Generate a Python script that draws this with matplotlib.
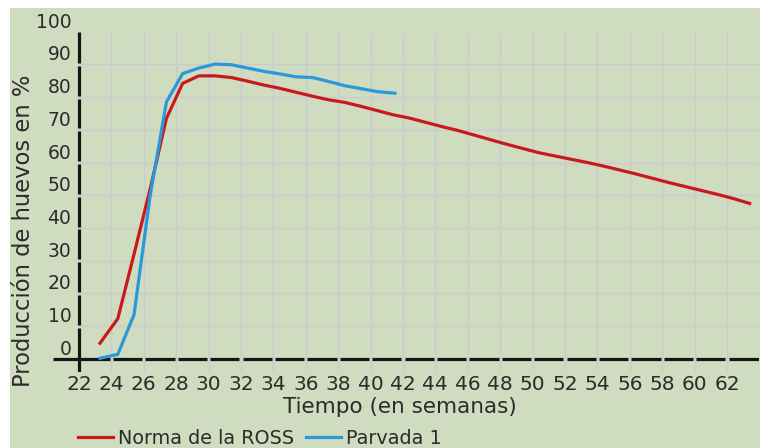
import matplotlib
matplotlib.use("Agg")
import matplotlib.pyplot as plt
from matplotlib.patches import Rectangle
from matplotlib.lines import Line2D

# ---------------- data ----------------
semanas_ross = [23.3, 24.4, 25.4, 26.4, 27.4, 28.4, 29.4, 30.4, 31.4, 32.4,
                33.4, 34.4, 35.4, 36.4, 37.4, 38.4, 39.4, 40.4, 41.4, 42.4,
                43.4, 44.4, 45.4, 46.4, 47.4, 48.4, 49.4, 50.4, 51.4, 52.4,
                53.4, 54.4, 55.4, 56.4, 57.4, 58.4, 59.4, 60.4, 61.4, 62.4, 63.4]
norma_ross = [4.8, 12.3, 32.0, 52.0, 73.5, 84.2, 86.5, 86.5, 86.0, 84.9,
              83.7, 82.7, 81.5, 80.3, 79.2, 78.4, 77.2, 75.9, 74.6, 73.6,
              72.3, 71.0, 69.8, 68.4, 67.0, 65.6, 64.3, 63.0, 62.0, 61.0,
              60.0, 58.9, 57.7, 56.5, 55.2, 53.9, 52.7, 51.5, 50.3, 49.0, 47.5]

semanas_parvada = [23.3, 24.4, 25.4, 26.4, 27.4, 28.4, 29.4, 30.4, 31.4, 32.4,
                   33.4, 34.4, 35.4, 36.4, 37.4, 38.4, 39.4, 40.4, 41.5]
parvada_1 = [0.2, 1.4, 13.5, 50.0, 78.5, 87.2, 88.9, 90.1, 89.9, 88.9,
             87.9, 87.1, 86.2, 86.0, 84.8, 83.5, 82.6, 81.7, 81.2]

x_ticks = list(range(22, 64, 2))
y_ticks = list(range(0, 101, 10))
x_tick_labels = [str(v) for v in x_ticks]
y_tick_labels = [str(v) for v in y_ticks]

serie_nombres = ["Norma de la ROSS", "Parvada 1"]
x_titulo = "Tiempo (en semanas)"
y_titulo = "Producción de huevos en %"

# ---------------- style ----------------
BG = "#cfdcc0"
GRID = "#c9cad4"
RED = "#c8191c"
BLUE = "#2b98da"
TXT = "#2b2b2b"
AXC = "#151515"

W, H = 771, 448
fig = plt.figure(figsize=(W / 100, H / 100), dpi=100)
fig.patch.set_facecolor("white")
fig.patches.append(Rectangle((10 / W, 0), 750 / W, 1 - 8 / H,
                             transform=fig.transFigure, facecolor=BG,
                             edgecolor="none", zorder=-10))

ax = fig.add_axes([53 / W, 1 - 372 / H, (759.4 - 53) / W, (372 - 31.7) / H])
ax.set_zorder(5)
ax.patch.set_visible(False)
ax.set_xlim(20.4, 64)
ax.set_ylim(-4, 100)

# grid
x0, x1 = x_ticks[0], ax.get_xlim()[1]
ax.vlines(x_ticks + [64], ax.get_ylim()[0], y_ticks[-1], colors=GRID, lw=1.0, zorder=1)
ax.hlines(y_ticks[1:-1], x0, x1, colors=GRID, lw=1.0, zorder=1)

# broken axis lines
gx, gy = 0.1, 0.45
xs = [ax.get_xlim()[0]] + x_ticks[1:] + [x1]
for a, b in zip(xs[:-1], xs[1:]):
    ax.plot([a + (gx if a != xs[0] else 0), b - (gx if b != xs[-1] else 0)], [0, 0],
            color=AXC, lw=2.3, solid_capstyle="butt", zorder=4)
ys = [ax.get_ylim()[0], 0] + y_ticks[1:]
for a, b in zip(ys[:-1], ys[1:]):
    ax.plot([x0, x0], [a + (gy if a > 0 else 0), b - (gy if (0 < b < 100) else 0)],
            color=AXC, lw=2.3, solid_capstyle="butt", zorder=4)

# data
ax.plot(semanas_ross, norma_ross, color=RED, lw=2.3, zorder=5,
        solid_joinstyle="round", label=serie_nombres[0])
ax.plot(semanas_parvada, parvada_1, color=BLUE, lw=2.3, zorder=5,
        solid_joinstyle="round", label=serie_nombres[1])

for s in ax.spines.values():
    s.set_visible(False)
ax.spines["left"].set_position(("data", 22))

ax.set_xticks(x_ticks, labels=x_tick_labels)
ax.set_yticks(y_ticks, labels=y_tick_labels)
ax.tick_params(axis="x", length=0, pad=2.5, labelsize=14.5, labelcolor=TXT)
ax.tick_params(axis="y", length=0, pad=5.5, labelsize=13.5, labelcolor=TXT)
for t in ax.get_xticklabels():
    t.set_fontfamily(["Liberation Sans Narrow", "DejaVu Sans"])
for t in ax.get_yticklabels():
    t.set_va("bottom")

fig.text(400 / W, 1 - 407 / H, x_titulo, ha="center", va="center",
         fontsize=15.5, color=TXT)
fig.text(24 / W, 1 - 231 / H, y_titulo, ha="center", va="center",
         rotation=90, fontsize=16.3, color=TXT)

handles = [Line2D([], [], color=RED, lw=2.3), Line2D([], [], color=BLUE, lw=2.3)]
fig.legend(handles, serie_nombres, loc="center left",
           bbox_to_anchor=(78 / W, 1 - 438 / H), ncol=2, frameon=False,
           fontsize=13.8, labelcolor=TXT, handlelength=1.85, handletextpad=0.25,
           columnspacing=0.6, borderpad=0, borderaxespad=0)

fig.savefig("out.png", dpi=100, facecolor="white")
